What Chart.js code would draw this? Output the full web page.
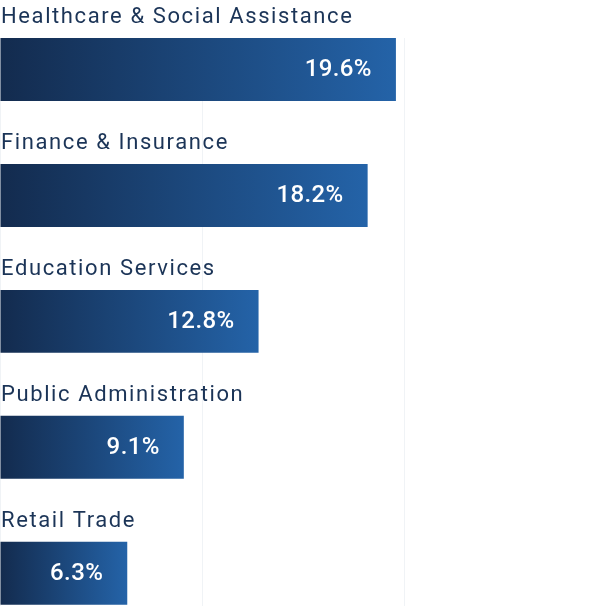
<!DOCTYPE html>
<html>
<head>
<meta charset="utf-8">
<script src="https://cdn.jsdelivr.net/npm/chart.js@4"></script>
<style>
  html, body { margin: 0; padding: 0; background: #ffffff; overflow: hidden; }
  #wrap { width: 606px; height: 606px; position: relative; }
</style>
</head>
<body>
<div id="wrap"><canvas id="sectorChart"></canvas></div>
<script>
// Share of employment by sector (%)
const sectors = [
    "Healthcare & Social Assistance",
    "Finance & Insurance",
    "Education Services",
    "Public Administration",
    "Retail Trade"
];
const shares = [19.6, 18.2, 12.8, 9.1, 6.3];
const axisTicks = [0, 10, 20, 30];

const navyDark = "#132b4e";
const navyLight = "#2463a8";
const labelColor = "#1b3457";

function barGradient(context){
    const chart = context.chart;
    const xScale = chart.scales.x;
    if(!chart.chartArea || !xScale || context.dataIndex === undefined) return navyLight;
    const v = shares[context.dataIndex];
    const x0 = xScale.getPixelForValue(0);
    const x1 = xScale.getPixelForValue(v);
    const g = chart.ctx.createLinearGradient(x0, 0, x1, 0);
    g.addColorStop(0, navyDark);
    g.addColorStop(1, navyLight);
    return g;
}

// category names above the bars, values inside the bar ends
const barLabels = {
    id: "barLabels",
    afterDatasetsDraw(chart){
        const ctx = chart.ctx;
        const meta = chart.getDatasetMeta(0);
        ctx.save();
        meta.data.forEach((bar, i) => {
            const top = bar.y - bar.height / 2;

            ctx.font = "400 22px Roboto";
            ctx.letterSpacing = "1.6px";
            ctx.fillStyle = labelColor;
            ctx.textAlign = "left";
            ctx.textBaseline = "alphabetic";
            ctx.fillText(sectors[i], chart.chartArea.left + 1, top - 15);

            ctx.font = "500 24px Roboto";
            ctx.letterSpacing = "0.4px";
            ctx.fillStyle = "#ffffff";
            ctx.textAlign = "right";
            ctx.textBaseline = "middle";
            ctx.fillText(shares[i].toFixed(1) + "%", bar.x - 24, bar.y + 1);
        });
        ctx.restore();
    }
};

const sectorChart = new Chart(document.getElementById("sectorChart"), {
    type: "bar",
    data: {
        datasets: [{
            data: shares.map((v, i) => ({ x: v, y: i })),
            backgroundColor: barGradient,
            borderWidth: 0,
            borderSkipped: false,
            barPercentage: 0.5,
            categoryPercentage: 1
        }]
    },
    options: {
        indexAxis: "y",
        responsive: true,
        maintainAspectRatio: false,
        animation: false,
        layout: {
            padding: { top: 38, left: 0, right: 0, bottom: 0 }
        },
        plugins: {
            legend: { display: false },
            tooltip: { enabled: false }
        },
        scales: {
            x: {
                type: "linear",
                position: "top",
                min: axisTicks[0],
                max: axisTicks[axisTicks.length - 1],
                afterBuildTicks: s => { s.ticks = axisTicks.map(v => ({ value: v })); },
                ticks: { display: false },
                border: { display: false },
                grid: {
                    color: "rgba(40, 80, 130, 0.07)",
                    lineWidth: 1,
                    drawTicks: false
                }
            },
            y: {
                type: "linear",
                display: false,
                offset: false,
                reverse: true,
                min: -0.25,
                max: 4.26,
                afterBuildTicks: s => { s.ticks = sectors.map((c, i) => ({ value: i })); }
            }
        }
    },
    plugins: [barLabels]
});
</script>
</body>
</html>
